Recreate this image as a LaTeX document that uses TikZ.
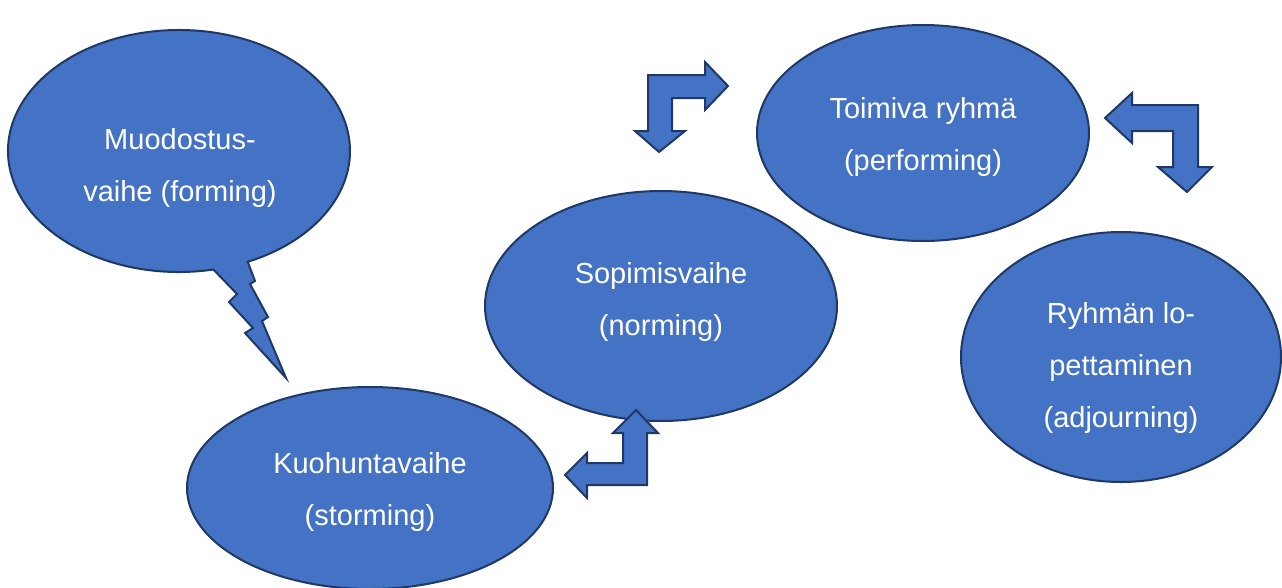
\documentclass[tikz,border=0pt]{standalone}
\usepackage{fontspec}
\setmainfont{Liberation Sans}
\usetikzlibrary{shapes.geometric}
\definecolor{fillblue}{HTML}{4472C4}
\definecolor{edgeblue}{HTML}{1F3864}
\begin{document}
\begin{tikzpicture}[x=1pt,y=-1pt,
  stage/.style={ellipse, fill=fillblue, draw=edgeblue, line width=2pt, inner sep=0pt},
  lbl/.style={text=white, align=center, inner sep=0pt, font=\fontsize{29}{52}\selectfont},
  blockarrow/.style={fill=fillblue, draw=edgeblue, line width=2pt, line join=miter}]
\useasboundingbox (0,0) rectangle (1282,587);

% forming: callout ellipse with lightning tail
\coordinate (fc) at (179,151);
\draw[blockarrow] ([shift={(78.4:171 and 121)}]fc)
  arc[start angle=78.4, end angle=426.3, x radius=171, y radius=121]
  -- (255,281) -- (250,284) -- (268,317) -- (262,321) -- (286,378)
  -- (245,333) -- (253,328) -- (229,302) -- (237,294) -- cycle;
\node[lbl] (forming) at (180,168) {Muodostus-\\vaihe (forming)};

\node[stage, minimum width=366pt, minimum height=202pt] (storming) at (370,488) {};
\node[lbl] (stormingtext) at (370,492) {Kuohuntavaihe\\(storming)};

\node[stage, minimum width=352pt, minimum height=230pt] (norming) at (661,306) {};
\node[lbl] (normingtext) at (661,302) {Sopimisvaihe\\(norming)};

\node[stage, minimum width=332pt, minimum height=216pt] (performing) at (923,133) {};
\node[lbl] (performingtext) at (923,137) {Toimiva ryhmä\\(performing)};

\node[stage, minimum width=320pt, minimum height=250pt] (adjourning) at (1121,357) {};
\node[lbl] (adjourningtext) at (1121,368) {Ryhmän lo-\\pettaminen\\(adjourning)};

% bent block arrows
\draw[blockarrow] (659,152) -- (685,131) -- (672,131) -- (672,98) -- (705,98) -- (705,110)
  -- (728,86) -- (705,62) -- (705,75) -- (648,75) -- (648,131) -- (635,131) -- cycle;
\draw[blockarrow] (1105,118) -- (1132,93) -- (1132,105) -- (1198,105) -- (1198,167) -- (1212,167)
  -- (1187,192) -- (1158,167) -- (1173,167) -- (1173,131) -- (1132,131) -- (1132,143) -- cycle;
\draw[blockarrow] (636,410) -- (658,433) -- (647,433) -- (647,485) -- (587,485) -- (587,498)
  -- (565,475) -- (587,453) -- (587,463) -- (623,463) -- (623,433) -- (613,433) -- cycle;
\end{tikzpicture}
\end{document}
